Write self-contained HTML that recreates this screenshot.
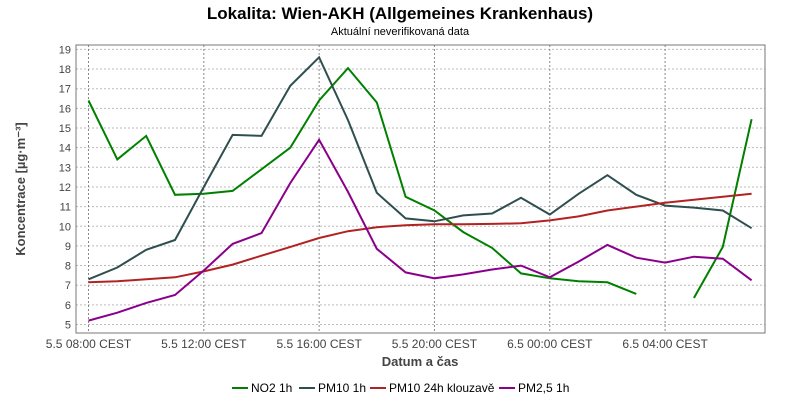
<!DOCTYPE html>
<html><head><meta charset="utf-8"><style>
body{margin:0;background:#fff;font-family:"Liberation Sans",sans-serif}
svg text{font-family:"Liberation Sans",sans-serif}
</style></head><body>
<svg id="c" width="800" height="400">
<text x="400" y="19" text-anchor="middle" font-size="17" font-weight="bold" fill="#000">Lokalita: Wien-AKH (Allgemeines Krankenhaus)</text>
<text x="400" y="35" text-anchor="middle" font-size="11" fill="#000">Aktuální neverifikovaná data</text>
<g id="grid"></g><g id="series"></g><g id="axes"></g><g id="legend"></g>
</svg>
<script>
const hours=["08","09","10","11","12","13","14","15","16","17","18","19","20","21","22","23","00","01","02","03","04","05","06","07"];
const no2=[16.4,13.4,14.6,11.6,11.65,11.8,12.9,14.0,16.4,18.05,16.3,11.5,10.8,9.7,8.9,7.6,7.35,7.2,7.15,6.55,null,6.35,8.95,15.45];
const pm10=[7.3,7.9,8.8,9.3,12.0,14.65,14.6,17.15,18.6,15.4,11.7,10.4,10.25,10.55,10.65,11.45,10.6,11.65,12.6,11.6,11.05,10.95,10.8,9.9];
const pm10avg=[7.15,7.2,7.3,7.4,7.7,8.05,8.5,8.95,9.4,9.75,9.95,10.05,10.1,10.1,10.12,10.15,10.3,10.5,10.8,11.0,11.2,11.35,11.5,11.65];
const pm25=[5.2,5.6,6.1,6.5,7.75,9.1,9.65,12.2,14.4,11.75,8.85,7.65,7.35,7.55,7.8,8.0,7.4,8.2,9.05,8.4,8.15,8.45,8.35,7.25];
const yTicks=[5,6,7,8,9,10,11,12,13,14,15,16,17,18,19];
const xTickIdx=[0,4,8,12,16,20];
const xTickLabels=["5.5 08:00 CEST","5.5 12:00 CEST","5.5 16:00 CEST","5.5 20:00 CEST","6.5 00:00 CEST","6.5 04:00 CEST"];
const seriesNames=["NO2 1h","PM10 1h","PM10 24h klouzavě","PM2,5 1h"];
const colors=["#008000","#2f4f4f","#b22222","#8b008b"];
const L=76,R=765,T=45,B=333;
const X=i=>88.5+i*28.83;
const Y=v=>324.5-(v-5)*19.65;
const NS="http://www.w3.org/2000/svg";
function mk(p,t,a){const e=document.createElementNS(NS,t);for(const k in a)e.setAttribute(k,a[k]);p.appendChild(e);return e;}
const g=document.getElementById('grid'),s=document.getElementById('series'),ax=document.getElementById('axes'),lg=document.getElementById('legend');
for(const v of yTicks){
 const l=mk(g,'line',{x1:L,x2:R,y1:Y(v),y2:Y(v),stroke:'#bbb','stroke-dasharray':'2,2'});
 
 
 const t=mk(ax,'text',{x:L-5,y:Y(v)+4,'text-anchor':'end','font-size':11,fill:'#444'});t.textContent=v;
 
 
}
xTickIdx.forEach((i,k)=>{
 const l=mk(g,'line',{x1:X(i),x2:X(i),y1:T,y2:B,stroke:'#888','stroke-dasharray':'2,2'});
 
 
 const t=mk(ax,'text',{x:X(i),y:B+15,'text-anchor':'middle','font-size':12,fill:'#444'});t.textContent=xTickLabels[k];
 
 
});
const fr=mk(ax,'rect',{x:L,y:T,width:R-L,height:B-T,fill:'none',stroke:'#777'});


const xt=mk(ax,'text',{x:420,y:366,'text-anchor':'middle','font-size':13,'font-weight':'bold',fill:'#444'});xt.textContent='Datum a čas';


const yt=mk(ax,'text',{x:0,y:0,'text-anchor':'middle','font-size':13,'font-weight':'bold',fill:'#444',transform:'translate(25,189) rotate(-90)'});yt.textContent='Koncentrace [µg·m⁻³]';


const data=[no2,pm10,pm10avg,pm25];
const snames=['no2-line','pm10-line','pm10-24h-line','pm25-line'];
data.forEach((arr,k)=>{
 let d='',pen=false;
 arr.forEach((v,i)=>{if(v==null){pen=false;return;}d+=(pen?'L':'M')+X(i).toFixed(1)+','+Y(v).toFixed(1);pen=true;});
 const p=mk(s,'path',{d:d,fill:'none',stroke:colors[k],'stroke-width':2});
 
 
});
const lx=[232,299,370,499];
seriesNames.forEach((n,k)=>{
 const e=mk(lg,'g',{});
 
 
 mk(e,'line',{x1:lx[k],x2:lx[k]+16,y1:388,y2:388,stroke:colors[k],'stroke-width':2});
 const t=mk(e,'text',{x:lx[k]+19,y:392,'font-size':12,fill:'#000'});t.textContent=n;
});
</script>
</body></html>
